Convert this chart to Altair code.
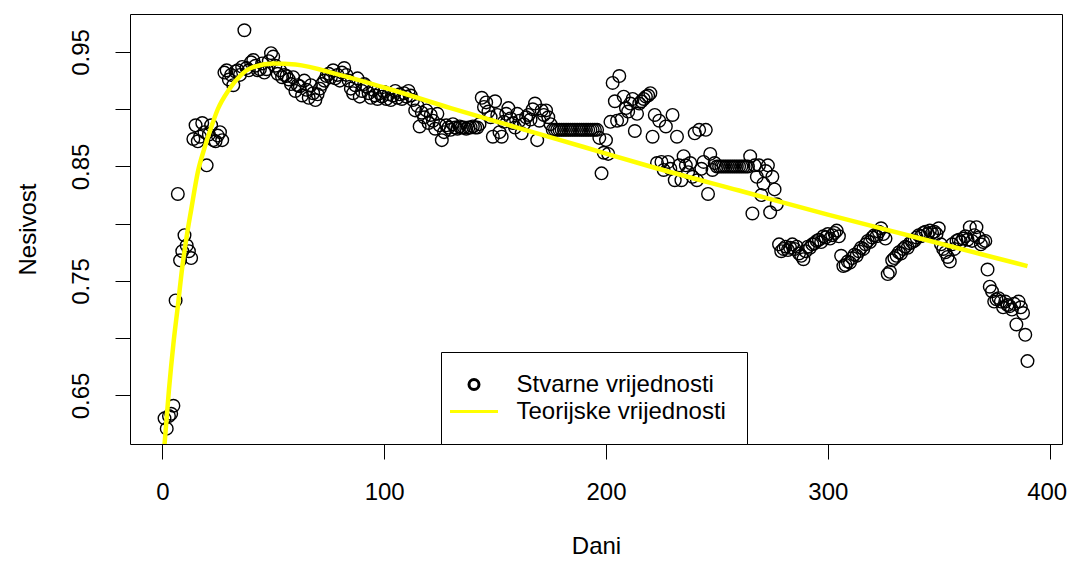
import altair as alt
import pandas as pd

# ---------------- data ----------------
SERIES = ["Stvarne vrijednosti", "Teorijske vrijednosti"]

nes_01_13 = [0.630, 0.621, 0.632, 0.634, 0.641, 0.733, 0.826, 0.768, 0.776, 0.790, 0.781, 0.776, 0.770]
nes_14_27 = [0.874, 0.886, 0.872, 0.876, 0.888, 0.880, 0.851, 0.878, 0.886, 0.873, 0.872, 0.877, 0.880, 0.873]
nes_28_61 = [0.932, 0.934, 0.926, 0.930, 0.921, 0.933, 0.934, 0.930, 0.937, 0.969,
             0.936, 0.934, 0.941, 0.943, 0.938, 0.934, 0.935, 0.940, 0.932, 0.935,
             0.942, 0.949, 0.946, 0.938, 0.931, 0.934, 0.928, 0.930, 0.929, 0.926,
             0.922, 0.928, 0.916, 0.921]
nes_62_72 = [0.920, 0.912, 0.925, 0.917, 0.910, 0.921, 0.914, 0.908, 0.913, 0.918, 0.922]
nes_73_82 = [0.925, 0.929, 0.931, 0.928, 0.934, 0.927, 0.930, 0.925, 0.932, 0.936]
nes_83_95 = [0.930, 0.925, 0.918, 0.914, 0.921, 0.927, 0.911, 0.916, 0.922, 0.920, 0.914, 0.910, 0.917]
nes_96_113 = [0.912, 0.909, 0.914, 0.911, 0.915, 0.909, 0.913, 0.908, 0.912, 0.916,
              0.910, 0.913, 0.909, 0.914, 0.911, 0.916, 0.912, 0.908]
nes_114_127 = [0.899, 0.903, 0.885, 0.897, 0.893, 0.899, 0.888, 0.895, 0.890, 0.883, 0.896, 0.886, 0.873, 0.880]
nes_128_143 = [0.886, 0.884, 0.882, 0.887, 0.884, 0.883, 0.885, 0.884, 0.884, 0.883,
               0.884, 0.884, 0.885, 0.884, 0.884, 0.887]
nes_144_153 = [0.910, 0.902, 0.906, 0.898, 0.893, 0.876, 0.907, 0.895, 0.880, 0.876]
nes_154_175 = [0.889, 0.896, 0.901, 0.892, 0.888, 0.884, 0.896, 0.890, 0.879, 0.887,
               0.893, 0.895, 0.891, 0.900, 0.905, 0.873, 0.890, 0.899, 0.895, 0.899,
               0.893, 0.887]
nes_176_196 = [0.882, 0.882, 0.882, 0.882, 0.882, 0.882, 0.882, 0.882, 0.882, 0.882,
               0.882, 0.882, 0.882, 0.882, 0.882, 0.882, 0.882, 0.882, 0.882, 0.882, 0.882]
nes_197_202 = [0.875, 0.844, 0.862, 0.873, 0.861, 0.889]
nes_203_222 = [0.923, 0.907, 0.890, 0.929, 0.891, 0.911, 0.901, 0.898, 0.905, 0.909,
               0.881, 0.896, 0.905, 0.907, 0.909, 0.911, 0.912, 0.914, 0.876, 0.895]
nes_223_250 = [0.853, 0.890, 0.854, 0.847, 0.885, 0.854, 0.848, 0.895, 0.838, 0.876,
               0.851, 0.838, 0.859, 0.851, 0.845, 0.853, 0.841, 0.879, 0.838, 0.882,
               0.848, 0.854, 0.882, 0.826, 0.861, 0.847, 0.853, 0.850]
nes_251_266 = [0.850, 0.850, 0.850, 0.850, 0.850, 0.850, 0.850, 0.850, 0.850, 0.850,
               0.850, 0.850, 0.850, 0.850, 0.859, 0.809]
nes_267_277 = [0.851, 0.841, 0.851, 0.825, 0.835, 0.846, 0.851, 0.810, 0.841, 0.830, 0.817]
nes_278_307 = [0.782, 0.776, 0.778, 0.780, 0.777, 0.779, 0.782, 0.778, 0.780, 0.774,
               0.772, 0.769, 0.776, 0.780, 0.779, 0.782, 0.783, 0.785, 0.786, 0.784,
               0.789, 0.788, 0.791, 0.787, 0.790, 0.792, 0.794, 0.789, 0.772, 0.763]
nes_308_323 = [0.764, 0.767, 0.766, 0.770, 0.773, 0.772, 0.776, 0.779, 0.778, 0.782,
               0.785, 0.784, 0.788, 0.790, 0.789, 0.793]
nes_324_329 = [0.796, 0.791, 0.787, 0.756, 0.758, 0.768]
nes_330_351 = [0.770, 0.772, 0.775, 0.774, 0.778, 0.780, 0.779, 0.783, 0.784, 0.785,
               0.788, 0.790, 0.789, 0.792, 0.793, 0.791, 0.794, 0.792, 0.793, 0.791,
               0.796, 0.782]
nes_352_371 = [0.778, 0.775, 0.771, 0.767, 0.782, 0.778, 0.785, 0.786, 0.784, 0.787,
               0.789, 0.786, 0.797, 0.785, 0.790, 0.797, 0.788, 0.782, 0.784, 0.785]
nes_372_390 = [0.760, 0.745, 0.741, 0.732, 0.734, 0.735, 0.732, 0.727, 0.732, 0.729,
               0.728, 0.725, 0.730, 0.712, 0.732, 0.727, 0.722, 0.703, 0.680]

nesivost = (nes_01_13 + nes_14_27 + nes_28_61 + nes_62_72 + nes_73_82 + nes_83_95
            + nes_96_113 + nes_114_127 + nes_128_143 + nes_144_153 + nes_154_175
            + nes_176_196 + nes_197_202 + nes_203_222 + nes_223_250 + nes_251_266
            + nes_267_277 + nes_278_307 + nes_308_323 + nes_324_329 + nes_330_351
            + nes_352_371 + nes_372_390)
dani = list(range(1, len(nesivost) + 1))

# theoretical (fitted) curve, read at selected days
fit_dani = [1, 3, 5, 7, 9, 11, 13, 16, 19, 22, 25, 30, 35, 40, 50, 60, 80, 100,
            130, 160, 190, 220, 260, 300, 340, 390]
fit_vals = [0.607, 0.655, 0.695, 0.728, 0.762, 0.789, 0.812, 0.845, 0.866, 0.884,
            0.900, 0.917, 0.929, 0.936, 0.940, 0.939, 0.930, 0.919,
            0.901, 0.884, 0.867, 0.850, 0.829, 0.808, 0.788, 0.763]

x_ticks = [0, 100, 200, 300, 400]
y_ticks = [0.65, 0.70, 0.75, 0.80, 0.85, 0.90, 0.95]

obs = pd.DataFrame({"Dani": dani, "Nesivost": nesivost, "serija": SERIES[0]})
fit = pd.DataFrame({"Dani": fit_dani, "Nesivost": fit_vals})

FONT = "Liberation Sans"
CIRCLE = "M-1,0A1,1 0 1,0 1,0A1,1 0 1,0 -1,0Z"
HLINE = "M-4.8,0L4.8,0"

x_scale = alt.Scale(domain=[-14.56, 405.56], nice=False, zero=False)
y_scale = alt.Scale(domain=[0.6076, 0.9832], nice=False, zero=False)

x_axis = alt.Axis(
    values=x_ticks, title="Dani", domain=False, grid=False,
    tickSize=15, tickColor="black", tickWidth=1,
    labelFontSize=24, labelFont=FONT, labelColor="black", labelPadding=21,
    labelOffset={"condition": {"test": "datum.value == 400", "value": -3}, "value": 0},
    labelFlush=False, labelOverlap=False,
    titleFontSize=24, titleFont=FONT, titleFontWeight="normal", titleColor="black",
    titleY=109, titleBaseline="alphabetic",
)
y_axis = alt.Axis(
    values=y_ticks, title="Nesivost", domain=False, grid=False,
    tickSize=15, tickColor="black", tickWidth=1, format=".2f",
    labelExpr="(round(datum.value*100) % 10 == 5) ? datum.label : ''",
    labelAngle=-90, labelAlign="center", labelBaseline="bottom",
    labelFontSize=24, labelFont=FONT, labelColor="black", labelPadding=22,
    labelFlush=False, labelOverlap=False,
    titleFontSize=24, titleFont=FONT, titleFontWeight="normal", titleColor="black",
    titleAngle=-90, titleAlign="center", titleBaseline="bottom",
    titleX=-90, titleY=215,
)

legend = alt.Legend(
    orient="none", legendX=311, legendY=338, title=None,
    padding=20.5, strokeColor="black", fillColor="white",
    symbolSize=100, symbolStrokeWidth=3, symbolOffset=0.5,
    labelOffset=30.5, rowPadding=3, labelLimit=500,
    labelFontSize=24, labelFont=FONT, labelColor="black",
)

points = alt.Chart(obs).mark_point(filled=False, size=159, strokeWidth=1.4, opacity=1).encode(
    x=alt.X("Dani:Q", scale=x_scale, axis=x_axis),
    y=alt.Y("Nesivost:Q", scale=y_scale, axis=y_axis),
    color=alt.Color("serija:N", scale=alt.Scale(domain=SERIES, range=["black", "#FFFF00"]), legend=legend),
    shape=alt.Shape("serija:N", scale=alt.Scale(domain=SERIES, range=[CIRCLE, HLINE]), legend=legend),
)

curve = alt.Chart(fit).mark_line(color="#FFFF00", strokeWidth=4.5, clip=True, interpolate="monotone").encode(
    x=alt.X("Dani:Q", scale=x_scale),
    y=alt.Y("Nesivost:Q", scale=y_scale),
)

chart = alt.layer(points, curve).properties(
    width=932, height=430,
    autosize=alt.AutoSizeParams(type="none"),
    padding={"left": 122, "top": 6, "right": 5, "bottom": 113},
    background="white",
).configure(
    font=FONT,
    view=alt.ViewConfig(stroke="black", strokeWidth=1),
)

chart.save("out.html", embed_options={"renderer": "svg", "actions": False})
